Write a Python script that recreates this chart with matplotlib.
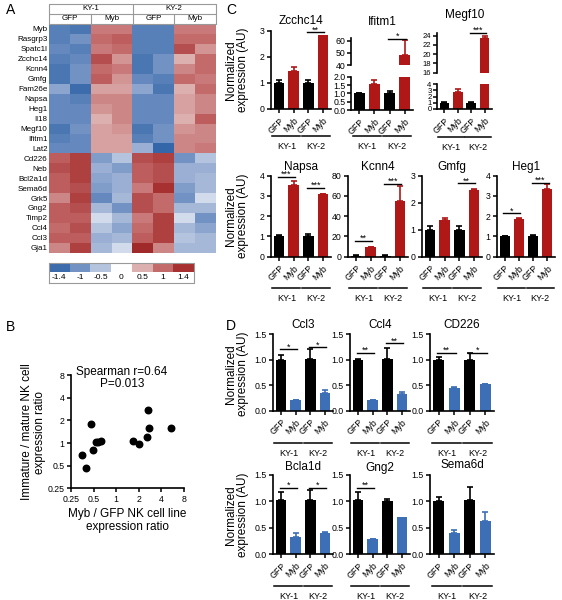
import numpy as np
import matplotlib
matplotlib.use("Agg")
import matplotlib.pyplot as plt
import matplotlib.transforms as mtransforms
from matplotlib.colors import LinearSegmentedColormap

plt.rcParams['font.family'] = ['Liberation Sans', 'DejaVu Sans']

W, H = 562, 600

# ---- panel A data ----
genes = ['Myb', 'Rasgrp3', 'Spatc1l', 'Zcchc14', 'Kcnn4', 'Gmfg', 'Fam26e', 'Napsa',
         'Heg1', 'Il18', 'Megf10', 'Ifitm1', 'Lat2', 'Cd226', 'Neb', 'Bcl2a1d',
         'Sema6d', 'Grk5', 'Gng2', 'Timp2', 'Ccl4', 'Ccl3', 'Gja1']
lines = ['KY-1', 'KY-2']
conditions = ['GFP', 'Myb', 'GFP', 'Myb']
heat_values = [
    [-1.2, -1.3, 0.9, 0.9, -1.2, -1.2, 0.9, 0.9],
    [-1.2, -1.0, 1.0, 1.1, -1.2, -1.2, 1.0, 1.0],
    [-1.1, -1.2, 0.9, 1.0, -1.2, -1.2, 1.2, 0.7],
    [-1.2, -1.1, 1.2, 0.7, -1.3, -1.0, 0.5, 1.0],
    [-1.3, -1.0, 1.0, 0.9, -1.3, -1.0, 0.8, 1.0],
    [-1.3, -1.0, 1.1, 0.7, -1.1, -1.2, 1.0, 0.9],
    [-0.8, -1.4, 0.6, 0.6, -0.8, -1.3, 0.5, 1.0],
    [-1.1, -1.2, 0.8, 0.8, -1.1, -1.1, 0.6, 0.8],
    [-1.1, -1.1, 0.7, 0.8, -1.1, -1.1, 0.6, 0.8],
    [-1.1, -1.1, 0.5, 0.8, -1.1, -1.1, 0.5, 1.1],
    [-1.3, -1.0, 0.6, 0.7, -1.3, -1.0, 0.7, 0.8],
    [-1.2, -1.1, 0.6, 0.6, -1.2, -1.0, 0.8, 0.8],
    [-1.1, -1.1, 0.6, 0.6, -0.7, -1.5, 0.8, 0.9],
    [1.1, 1.3, -0.9, -0.5, 1.2, 1.3, -1.0, -0.5],
    [1.2, 1.3, -0.7, -0.9, 1.1, 1.2, -0.7, -0.7],
    [1.1, 1.3, -0.8, -0.7, 1.1, 1.2, -0.7, -0.6],
    [1.1, 1.2, -0.9, -0.7, 0.9, 1.4, -0.9, -0.6],
    [0.8, 1.3, -1.1, -0.6, 1.2, 1.0, -1.0, -0.3],
    [1.1, 1.2, -0.6, -1.0, 1.2, 1.0, -0.6, -0.6],
    [1.1, 1.1, -0.3, -0.6, 0.9, 1.3, -0.3, -1.0],
    [1.0, 1.2, -0.5, -0.8, 1.0, 1.3, -0.6, -0.8],
    [1.1, 1.1, -0.7, -0.6, 1.1, 1.3, -0.5, -0.6],
    [0.8, 1.3, -0.6, -0.3, 1.5, 0.8, -0.6, -0.6],
]
cbar_ticks = [-1.4, -1, -0.5, 0, 0.5, 1, 1.4]
cbar_labels = ['-1.4', '-1', '-0.5', '0', '0.5', '1', '1.4']

# ---- panel B data ----
myb_gfp_ratio = [0.35, 0.40, 0.46, 0.49, 0.54, 0.58, 0.62, 1.66, 2.0, 2.68, 2.6, 2.77, 5.37]
immature_mature_ratio = [0.70, 0.47, 1.77, 0.82, 1.02, 1.05, 1.08, 1.07, 0.97, 2.75, 1.2, 1.6, 1.6]

# ---- panel C data ----
zcchc14_mean = [1.0, 1.45, 1.0, 2.85]
zcchc14_err = [0.12, 0.17, 0.1, 0.0]
ifitm1_mean = [1.0, 1.58, 1.0, 48.0]
ifitm1_err = [0.05, 0.2, 0.12, 12.5]
megf10_mean = [1.0, 2.7, 1.0, 23.5]
megf10_err = [0.08, 0.6, 0.12, 0.4]
napsa_mean = [1.0, 3.55, 1.0, 3.1]
napsa_err = [0.05, 0.2, 0.1, 0.02]
kcnn4_mean = [1.0, 9.5, 1.0, 55.0]
kcnn4_err = [0.3, 0.3, 0.3, 15.0]
gmfg_mean = [1.0, 1.35, 1.0, 2.48]
gmfg_err = [0.13, 0.07, 0.13, 0.04]
heg1_mean = [1.0, 1.88, 1.0, 3.35]
heg1_err = [0.02, 0.03, 0.06, 0.25]

# ---- panel D data ----
ccl3_mean = [1.0, 0.2, 1.02, 0.35]
ccl3_err = [0.08, 0.01, 0.18, 0.05]
ccl4_mean = [1.0, 0.2, 1.02, 0.33]
ccl4_err = [0.01, 0.01, 0.2, 0.04]
cd226_mean = [1.0, 0.44, 1.0, 0.52]
cd226_err = [0.05, 0.03, 0.12, 0.01]
bcla1d_mean = [1.02, 0.33, 1.03, 0.4]
bcla1d_err = [0.15, 0.07, 0.18, 0.01]
gng2_mean = [1.02, 0.28, 1.0, 0.7]
gng2_err = [0.15, 0.01, 0.05, 0.0]
sema6d_mean = [1.0, 0.4, 1.03, 0.62]
sema6d_err = [0.08, 0.05, 0.25, 0.17]

RED = '#b01818'
BLUE = '#3d6fb6'

fig = plt.figure(figsize=(W / 100, H / 100), dpi=100)


def box(l, t, w, h):
    return fig.add_axes([l / W, 1 - (t + h) / H, w / W, h / H])


def ftext(x, y, s, **kw):
    return fig.text(x / W, 1 - y / H, s, **kw)


def prism(ax, fs=6.3):
    for s in ['top', 'right']:
        ax.spines[s].set_visible(False)
    for s in ['left', 'bottom']:
        ax.spines[s].set_linewidth(1.2)
    ax.tick_params(length=3, width=1.1, labelsize=fs, pad=1.5)


# ---------------- A: heatmap ----------------
cmap = LinearSegmentedColormap.from_list('hm', [
    (0.0, '#3466aa'), (0.1 / 3.0, '#3d6dad'), (0.5 / 3.0, '#7393c4'), (1.0 / 3.0, '#b4c3de'),
    (0.5, '#ffffff'), (2.0 / 3.0, '#ddb0b0'), (2.5 / 3.0, '#c46c6c'), (2.9 / 3.0, '#a83232'),
    (1.0, '#a02a2a')])

ax = box(49, 24, 167, 228.7)
ax.imshow(np.array(heat_values), cmap=cmap, vmin=-1.5, vmax=1.5, aspect='auto',
          interpolation='nearest')
ax.set_xticks([])
ax.set_yticks(range(len(genes)))
ax.set_yticklabels(genes, fontsize=5.8)
ax.tick_params(length=0, pad=1)
for s in ax.spines.values():
    s.set_visible(False)

hd = box(49, 4, 167, 20)
hd.set_xlim(0, 8)
hd.set_ylim(0, 2)
hd.axis('off')
gc = '#999999'
hd.plot([0, 8, 8, 0, 0], [0, 0, 2, 2, 0], color=gc, lw=0.8, clip_on=False)
hd.plot([0, 8], [1, 1], color=gc, lw=0.8)
hd.plot([4, 4], [0, 2], color=gc, lw=0.8)
hd.plot([2, 2], [0, 1], color=gc, lw=0.8)
hd.plot([6, 6], [0, 1], color=gc, lw=0.8)
for i, name in enumerate(lines):
    hd.text(2 + 4 * i, 1.5, name, ha='center', va='center', fontsize=5.8)
for i, name in enumerate(conditions):
    hd.text(1 + 2 * i, 0.5, name, ha='center', va='center', fontsize=5.8)

cb = box(49, 262.7, 145, 20)
cb.set_xlim(0, 7)
cb.set_ylim(0, 2)
cb.axis('off')
cb.imshow(np.array([cbar_ticks]), cmap=cmap, vmin=-1.5, vmax=1.5, aspect='auto',
          extent=[0, 7, 1.1, 2], interpolation='nearest')
cb.plot([0, 7, 7, 0, 0], [0, 0, 2, 2, 0], color=gc, lw=0.8, clip_on=False)
for i, lab in enumerate(cbar_labels):
    cb.text(i + 0.5, 0.5, lab, ha='center', va='center', fontsize=6)

# ---------------- B: scatter ----------------
ax = box(71, 375.3, 113, 113)
ax.scatter(myb_gfp_ratio, immature_mature_ratio, s=22, color='black', zorder=3)
ax.set_xscale('log', base=2)
ax.set_yscale('log', base=2)
ax.set_xlim(0.25, 8)
ax.set_ylim(0.25, 8)
tv = [0.25, 0.5, 1, 2, 4, 8]
tl = ['0.25', '0.5', '1', '2', '4', '8']
ax.set_xticks(tv)
ax.set_xticklabels(tl)
ax.set_yticks(tv)
ax.set_yticklabels(tl)
ax.minorticks_off()
prism(ax)
ftext(122, 372, 'Spearman r=0.64', ha='center', va='center', fontsize=8.5)
ftext(122, 384, 'P=0.013', ha='center', va='center', fontsize=8.5)
ftext(127, 514, 'Myb / GFP NK cell line', ha='center', va='center', fontsize=8.5)
ftext(127, 527, 'expression ratio', ha='center', va='center', fontsize=8.5)
ftext(27, 432, 'Immature / mature NK cell', ha='center', va='center', fontsize=8.5,
      rotation=90)
ftext(40, 432, 'expression ratio', ha='center', va='center', fontsize=8.5, rotation=90)


# ---------------- bar helpers ----------------
def draw_bars(ax, mean, err, color):
    cols = ['black', color, 'black', color]
    x = np.arange(4)
    ax.bar(x, mean, width=0.72, color=cols, zorder=2)
    for xi, m, e, c in zip(x, mean, err, cols):
        if e > 0:
            ax.errorbar(xi, m, yerr=[[0], [e]], fmt='none', ecolor=c, elinewidth=1.2,
                        capsize=2.2, capthick=1.2, zorder=1)
    ax.set_xlim(-0.55, 3.55)


def xlabels(ax, under_dy, text_dy):
    ax.set_xticks(range(4))
    ax.set_xticklabels(conditions, rotation=45, ha='right', rotation_mode='anchor',
                       fontsize=6.3)
    ax.tick_params(axis='x', pad=2)
    tr = ax.get_xaxis_transform() + mtransforms.ScaledTranslation(0, -under_dy / 100,
                                                                  fig.dpi_scale_trans)
    tr2 = ax.get_xaxis_transform() + mtransforms.ScaledTranslation(0, -text_dy / 100,
                                                                   fig.dpi_scale_trans)
    for k, name in enumerate(lines):
        a = 2 * k
        ax.plot([a - 0.45, a + 1.45], [0, 0], color='black', lw=1.1, transform=tr,
                clip_on=False)
        ax.text(a + 0.5, 0, name, transform=tr2, ha='center', va='top', fontsize=6.5)


def sig(ax, x0, x1, y, txt):
    ax.plot([x0 - 0.1, x1 + 0.1], [y, y], color='black', lw=1.0, clip_on=False)
    ax.annotate(txt, (0.5 * (x0 + x1), y), xytext=(0, -1.5), textcoords='offset points',
                ha='center', va='bottom', fontsize=6.5, annotation_clip=False)


def bar_panel(l, t, w, h, mean, err, color, title, title_y, ylim, yticks, ytl, sigs,
              under_dy=27, text_dy=33):
    ax = box(l, t, w, h)
    draw_bars(ax, mean, err, color)
    ax.set_ylim(*ylim)
    ax.set_yticks(yticks)
    ax.set_yticklabels(ytl)
    prism(ax)
    xlabels(ax, under_dy, text_dy)
    for s in sigs:
        sig(ax, *s)
    ftext(l + w / 2, title_y, title, ha='center', va='center', fontsize=8.5)
    return ax


def broken_panel(l, w, lo_t, lo_h, hi_t, hi_h, mean, err, color, title, title_y, lo_lim,
                 lo_ticks, lo_tl, hi_lim, hi_ticks, hi_tl, sigs, fs=6.3,
                 under_dy=27, text_dy=33):
    lo = box(l, lo_t, w, lo_h)
    draw_bars(lo, mean, err, color)
    lo.set_ylim(*lo_lim)
    lo.set_yticks(lo_ticks)
    lo.set_yticklabels(lo_tl)
    prism(lo, fs)
    lo.tick_params(axis='y', pad=1)
    xlabels(lo, under_dy, text_dy)
    hi = box(l, hi_t, w, hi_h)
    draw_bars(hi, mean, err, color)
    hi.set_ylim(*hi_lim)
    hi.set_yticks(hi_ticks)
    hi.set_yticklabels(hi_tl)
    prism(hi, fs)
    hi.tick_params(axis='y', pad=1)
    hi.spines['bottom'].set_visible(False)
    hi.set_xticks([])
    for s in sigs:
        sig(hi, *s)
    ftext(l + w / 2, title_y, title, ha='center', va='center', fontsize=8.5)


def ylab(y):
    ftext(237, y, 'Normalized\nexpression (AU)', rotation=90, ha='center',
          va='center', fontsize=8.5, linespacing=1.1)


# ---------------- C ----------------
bar_panel(271, 31, 60, 78, zcchc14_mean, zcchc14_err, RED, 'Zcchc14', 21, (0, 3),
          [0, 1, 2, 3], ['0', '1', '2', '3'], [(2, 3, 2.95, '**')])
broken_panel(351, 62, 76.7, 33.5, 38.2, 27.1, ifitm1_mean, ifitm1_err, RED, 'Ifitm1', 22,
             (0, 2), [0, 0.5, 1, 1.5, 2], ['0.0', '0.5', '1.0', '1.5', '2.0'],
             (40, 62), [40, 50, 60], ['40', '50', '60'], [(2, 3, 61.5, '*')],
             under_dy=25.5, text_dy=31.5)
broken_panel(437, 55, 84.3, 24.5, 33.4, 39.3, megf10_mean, megf10_err, RED, 'Megf10', 15,
             (0, 4), [0, 1, 2, 3, 4], ['0', '1', '2', '3', '4'],
             (16, 24.5), [16, 18, 20, 22, 24], ['16', '18', '20', '22', '24'],
             [(2, 3, 24.6, '***')], fs=5.5, under_dy=28.5, text_dy=34.5)
ylab(70)

bar_panel(271, 175.7, 60, 81, napsa_mean, napsa_err, RED, 'Napsa', 167, (0, 4),
          [0, 1, 2, 3, 4], ['0', '1', '2', '3', '4'],
          [(0, 1, 3.95, '***'), (2, 3, 3.4, '***')], under_dy=31.5, text_dy=37.5)
bar_panel(348, 175.7, 60, 81, kcnn4_mean, kcnn4_err, RED, 'Kcnn4', 167, (0, 80),
          [0, 20, 40, 60, 80], ['0', '20', '40', '60', '80'],
          [(0, 1, 15.5, '**'), (2, 3, 72, '***')], under_dy=31.5, text_dy=37.5)
bar_panel(422, 175.7, 60, 81, gmfg_mean, gmfg_err, RED, 'Gmfg', 167, (0, 3),
          [0, 1, 2, 3], ['0', '1', '2', '3'], [(2, 3, 2.72, '**')],
          under_dy=31.5, text_dy=37.5)
bar_panel(497, 175.7, 58, 81, heg1_mean, heg1_err, RED, 'Heg1', 167, (0, 4),
          [0, 1, 2, 3, 4], ['0', '1', '2', '3', '4'],
          [(0, 1, 2.15, '*'), (2, 3, 3.65, '***')], under_dy=31.5, text_dy=37.5)
ylab(216)

# ---------------- D ----------------
t15 = [0, 0.5, 1.0, 1.5]
t15l = ['0.0', '0.5', '1.0', '1.5']
bar_panel(273, 334, 60, 76.7, ccl3_mean, ccl3_err, BLUE, 'Ccl3', 325, (0, 1.5), t15, t15l,
          [(0, 1, 1.2, '*'), (2, 3, 1.24, '*')], under_dy=32, text_dy=38)
bar_panel(350, 334, 60, 76.7, ccl4_mean, ccl4_err, BLUE, 'Ccl4', 325, (0, 1.5), t15, t15l,
          [(0, 1, 1.13, '**'), (2, 3, 1.32, '**')], under_dy=32, text_dy=38)
bar_panel(430, 334, 64, 76.7, cd226_mean, cd226_err, BLUE, 'CD226', 325, (0, 1.5), t15,
          t15l, [(0, 1, 1.13, '**'), (2, 3, 1.13, '*')], under_dy=32, text_dy=38)
ylab(374)

bar_panel(273, 475, 60, 79, bcla1d_mean, bcla1d_err, BLUE, 'Bcla1d', 467, (0, 1.5), t15,
          t15l, [(0, 1, 1.26, '*'), (2, 3, 1.26, '*')], under_dy=32, text_dy=38)
bar_panel(350, 475, 60, 79, gng2_mean, gng2_err, BLUE, 'Gng2', 468, (0, 1.5), t15, t15l,
          [(0, 1, 1.26, '**')], under_dy=32, text_dy=38)
bar_panel(430, 475, 64, 79, sema6d_mean, sema6d_err, BLUE, 'Sema6d', 465, (0, 1.5), t15,
          t15l, [], under_dy=32, text_dy=38)
ylab(515)

# panel letters
for letter, (px, py) in zip('ABCD', [(6, 10), (6, 327), (226, 10), (226, 326)]):
    ftext(px, py, letter, fontsize=10, ha='left', va='center')

fig.savefig('out.png', dpi=100)
